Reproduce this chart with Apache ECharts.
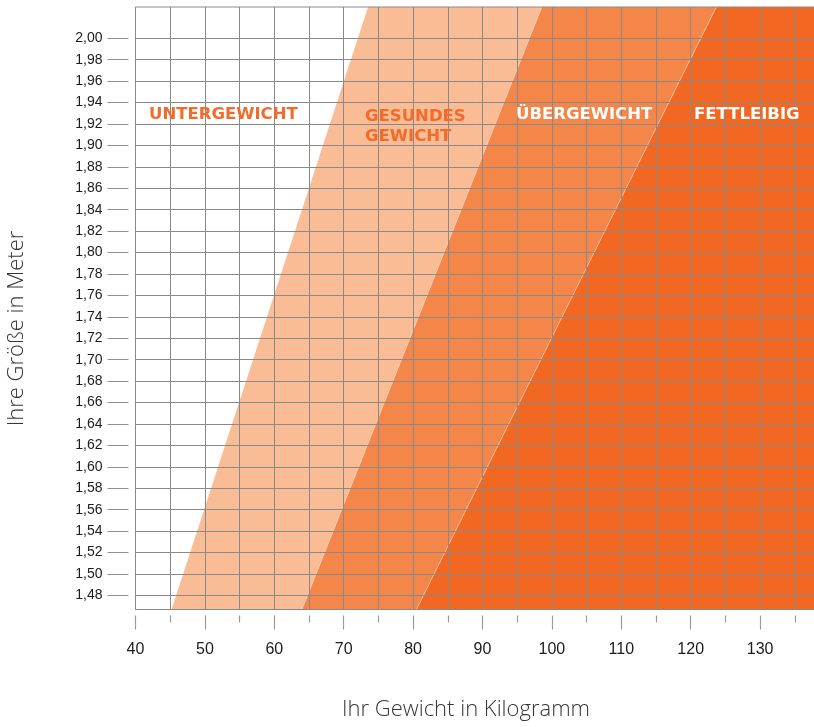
<!DOCTYPE html>
<html>
<head>
<meta charset="utf-8">
<script src="https://cdn.jsdelivr.net/npm/echarts@6/dist/echarts.min.js"></script>
<style>
  html, body { margin: 0; padding: 0; background: #ffffff; }
  #chart { width: 814px; height: 727px; }
</style>
</head>
<body>
<div id="chart"></div>
<script>
// Heights (m) at which the category boundaries are specified
const boundaryHeights = [1.48, 2.00];
// Weight (kg) of each category boundary at those two heights
const underToHealthy = [45.85, 72.03];
const healthyToOver = [64.81, 96.77];
const overToObese = [81.50, 121.46];

// Axis tick labels
const heightTicks = [1.48, 1.50, 1.52, 1.54, 1.56, 1.58, 1.60, 1.62, 1.64, 1.66, 1.68, 1.70, 1.72,
  1.74, 1.76, 1.78, 1.80, 1.82, 1.84, 1.86, 1.88, 1.90, 1.92, 1.94, 1.96, 1.98, 2.00];
const weightTicks = [40, 50, 60, 70, 80, 90, 100, 110, 120, 130];

// Category names
const categoryNames = ['UNTERGEWICHT', 'GESUNDES\nGEWICHT', 'ÜBERGEWICHT', 'FETTLEIBIG'];

// Filled bands: [left boundary, right boundary, colour]
const bands = [
  { left: underToHealthy, right: healthyToOver, color: '#F9BC94', edge: 'rgba(255,255,255,0.15)' },
  { left: healthyToOver, right: overToObese, color: '#F5864A', edge: 'rgba(255,255,255,0.25)' },
  { left: overToObese, right: null, color: '#F26722', edge: 'rgba(255,255,255,0.35)' }
];

// Weight of a boundary line at a given height (straight line through its two points)
function weightAt(line, h) {
  const [h0, h1] = boundaryHeights;
  return line[0] + (line[1] - line[0]) * (h - h0) / (h1 - h0);
}

const hLow = 1.40, hHigh = 2.10, farWeight = 220;

const chart = echarts.init(document.getElementById('chart'), null, { renderer: 'canvas' });

const labelFont = "'Liberation Sans Narrow', 'Arial Narrow', 'Liberation Sans', sans-serif";
const titleFont = "'Open Sans', Roboto, 'Liberation Sans', sans-serif";
const bandFont = "bold 16.5px 'DejaVu Sans', sans-serif";
const gridColor = '#898989';

chart.setOption({
  animation: false,
  backgroundColor: '#ffffff',
  grid: {
    left: 135.5, right: -15.5, top: 7, bottom: 117.5,
    outerBoundsMode: 'none',
    containLabel: false,
    show: true, borderColor: gridColor, borderWidth: 1, backgroundColor: 'transparent',
    z: 3
  },
  xAxis: {
    type: 'value',
    min: weightTicks[0], max: 140, interval: 10,
    offset: 6,
    z: 3,
    axisLine: { show: false },
    axisTick: { show: true, length: 14, lineStyle: { color: '#9a9a9a', width: 1.2 } },
    minorTick: { show: true, splitNumber: 2, length: 7, lineStyle: { color: '#9a9a9a', width: 1.2 } },
    splitLine: { show: true, lineStyle: { color: gridColor, width: 1 } },
    minorSplitLine: { show: true, lineStyle: { color: gridColor, width: 1 } },
    axisLabel: {
      margin: 26,
      fontFamily: labelFont, fontSize: 16, color: '#1c1c1c',
      formatter: v => (weightTicks.indexOf(v) >= 0 ? String(v) : '')
    }
  },
  yAxis: {
    type: 'value',
    min: 1.4668, max: 2.0292,
    offset: 7,
    z: 3,
    axisLine: { show: false },
    axisTick: { show: true, length: 21, customValues: heightTicks, lineStyle: { color: '#8f8f8f', width: 1 } },
    splitLine: { show: true, lineStyle: { color: gridColor, width: 1 } },
    axisLabel: {
      margin: 26, customValues: heightTicks,
      fontFamily: labelFont, fontSize: 14, color: '#1c1c1c',
      formatter: v => v.toFixed(2).replace('.', ',')
    }
  },
  series: [{
    type: 'custom',
    clip: true,
    z: 1,
    silent: true,
    data: bands.map((b, i) => i),
    renderItem: function (params, api) {
      const band = bands[params.dataIndex];
      const lw = h => weightAt(band.left, h);
      const rw = h => (band.right ? weightAt(band.right, h) : farWeight);
      const pts = [
        api.coord([lw(hLow), hLow]),
        api.coord([rw(hLow), hLow]),
        api.coord([rw(hHigh), hHigh]),
        api.coord([lw(hHigh), hHigh])
      ];
      return {
        type: 'polygon',
        shape: { points: pts },
        style: { fill: band.color, stroke: band.edge, lineWidth: 1 }
      };
    }
  }],
  graphic: [
    {
      type: 'text', left: 149, top: 106, z: 10,
      style: { text: categoryNames[0], font: bandFont, fill: '#F26B2A' }
    },
    {
      type: 'text', left: 365, top: 106, z: 10,
      style: { text: categoryNames[1], font: bandFont, fill: '#F26B2A', lineHeight: 20.5 }
    },
    {
      type: 'text', left: 516, top: 106, z: 10,
      style: { text: categoryNames[2], font: bandFont, fill: '#ffffff' }
    },
    {
      type: 'text', left: 694, top: 106, z: 10,
      style: { text: categoryNames[3], font: bandFont, fill: '#ffffff' }
    },
    {
      type: 'text', x: 17, y: 328.5, rotation: Math.PI / 2, z: 10,
      style: { text: 'Ihre Größe in Meter', font: "300 22px " + titleFont, fill: '#363636',
        align: 'center', verticalAlign: 'middle' }
    },
    {
      type: 'text', x: 466, y: 710, z: 10,
      style: { text: 'Ihr Gewicht in Kilogramm', font: "300 22px " + titleFont, fill: '#363636',
        align: 'center', verticalAlign: 'middle' }
    }
  ]
});
</script>
</body>
</html>
